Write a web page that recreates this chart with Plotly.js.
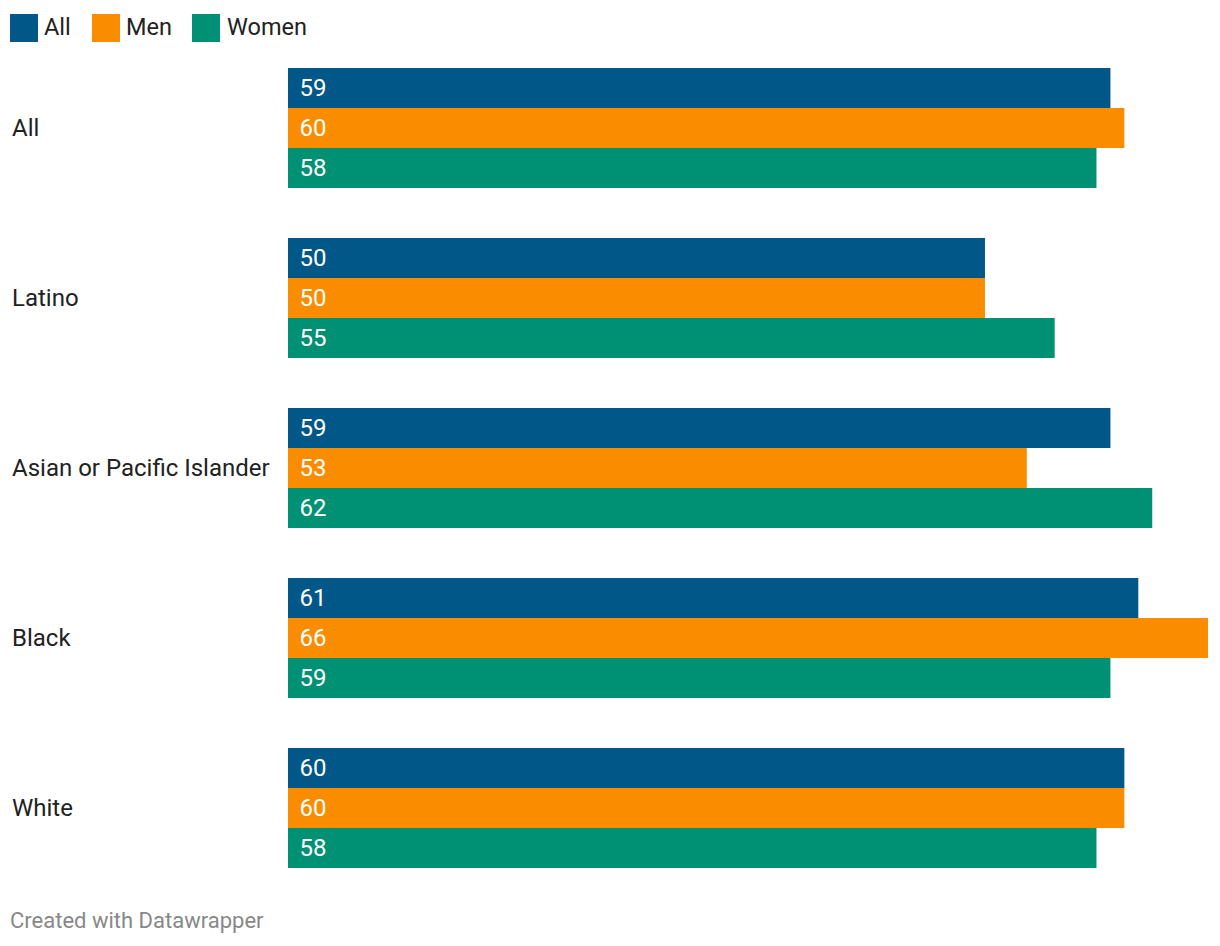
<!DOCTYPE html>
<html>
<head>
<meta charset="utf-8">
<script src="https://cdn.plot.ly/plotly-3.0.1.min.js"></script>
<style>html,body{margin:0;padding:0;background:#fff;}#chart{width:1220px;height:946px;}</style>
</head>
<body>
<div id="chart"></div>
<script>
const categories = ["All", "Latino", "Asian or Pacific Islander", "Black", "White"];
const seriesNames = ["All", "Men", "Women"];
const allValues = [59, 50, 59, 61, 60];
const menValues = [60, 50, 53, 66, 60];
const womenValues = [58, 55, 62, 59, 58];
const colors = ["#005788", "#fa8c00", "#009175"];

const W = 1220, H = 946;
const L = 288, R = 12, T = 43, B = 53;
const pw = W - L - R, ph = H - T - B;
const px = x => (x - L) / pw;
const py = y => (H - B - y) / ph;

const font = "Roboto, 'Noto Sans', sans-serif";
const values = [allValues, menValues, womenValues];

const traces = seriesNames.map((name, i) => ({
  type: "bar",
  orientation: "h",
  name: name,
  y: categories,
  x: values[i],
  marker: {color: colors[i], line: {width: 0}},
  text: values[i].map(v => String(v)),
  texttemplate: " \u200A%{text}",
  textposition: "inside",
  insidetextanchor: "start",
  textangle: 0,
  insidetextfont: {family: font, size: 24, color: "#ffffff"},
  hoverinfo: "none",
  showlegend: false
}));

const shapes = [];
const annotations = [];
const legendPos = [{sx: 10, tx: 44}, {sx: 92, tx: 126}, {sx: 192, tx: 227}];
seriesNames.forEach((name, i) => {
  shapes.push({type: "rect", xref: "paper", yref: "paper",
    x0: px(legendPos[i].sx), x1: px(legendPos[i].sx + 28),
    y0: py(42), y1: py(14), fillcolor: colors[i], line: {width: 0}});
  annotations.push({xref: "paper", yref: "paper", x: px(legendPos[i].tx - 2), y: py(27),
    xanchor: "left", yanchor: "middle", text: name, showarrow: false,
    font: {family: font, size: 23.5, color: "#222222"}});
});
categories.forEach(c => {
  annotations.push({xref: "paper", yref: "y", x: px(10), y: c,
    xanchor: "left", yanchor: "middle", text: c, showarrow: false,
    font: {family: font, size: 24, color: "#222222"}});
});
annotations.push({xref: "paper", yref: "paper", x: px(8), y: py(920),
  xanchor: "left", yanchor: "middle", text: "Created with Datawrapper", showarrow: false,
  font: {family: font, size: 22, color: "#888888"}});

const layout = {
  width: W, height: H,
  margin: {l: L, r: R, t: T, b: B, pad: 0},
  paper_bgcolor: "#ffffff", plot_bgcolor: "#ffffff",
  barmode: "group",
  bargap: 50 / 170,
  bargroupgap: 0,
  xaxis: {range: [0, 66], visible: false, fixedrange: true},
  yaxis: {autorange: "reversed", showticklabels: false, showgrid: false, zeroline: false, showline: false, ticks: "", fixedrange: true},
  shapes: shapes,
  annotations: annotations,
  font: {family: font},
  uniformtext: {mode: false}
};

Plotly.newPlot("chart", traces, layout, {displayModeBar: false, staticPlot: true});
</script>
</body>
</html>
